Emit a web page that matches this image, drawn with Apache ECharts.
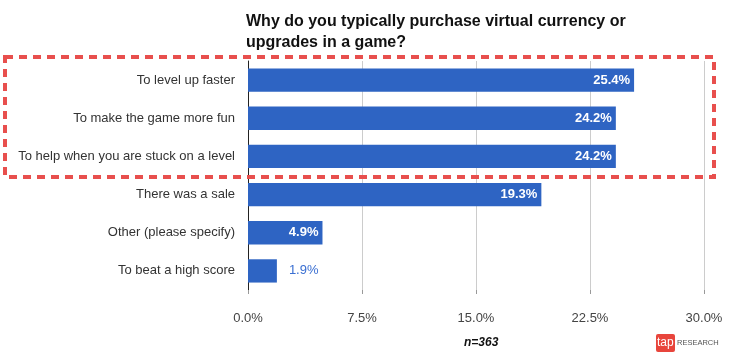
<!DOCTYPE html>
<html><head><meta charset="utf-8">
<script src="https://cdn.jsdelivr.net/npm/echarts@6/dist/echarts.min.js"></script>
<style>html,body{margin:0;padding:0;background:#fff}#c{width:743px;height:361px}</style>
</head><body><div id="c"></div>
<script>
var categories = ["To level up faster","To make the game more fun","To help when you are stuck on a level","There was a sale","Other (please specify)","To beat a high score"];
var values = [25.4, 24.2, 24.2, 19.3, 4.9, 1.9];
var xTicks = [0, 7.5, 15, 22.5, 30];

var chart = echarts.init(document.getElementById('c'));
var data = values.map(function(v){
  if (v < 3) return {value:v, label:{position:'right', color:'#3a6fd2', fontWeight:'normal', distance:12}};
  return v;
});
chart.setOption({
  animation:false,
  textStyle:{fontFamily:'Liberation Sans, Arial, sans-serif'},
  grid:{left:248, right:39, top:61, bottom:71, containLabel:false},
  title:{
    text:'Why do you typically purchase virtual currency or\nupgrades in a game?',
    left:241, top:6,
    textStyle:{fontSize:16, fontWeight:'bold', color:'#111', lineHeight:21, fontFamily:'Liberation Sans, Arial, sans-serif'}
  },
  xAxis:{
    type:'value', min:0, max:30, interval:7.5,
    axisLine:{show:false},
    axisTick:{show:true, length:4, lineStyle:{color:'#999'}},
    axisLabel:{color:'#444', fontSize:13, margin:22, formatter:function(v){return v.toFixed(1)+'%';}},
    splitLine:{show:true, lineStyle:{color:'#cccccc', width:1}}
  },
  yAxis:{
    type:'category', data:categories, inverse:true,
    axisLine:{show:true, lineStyle:{color:'#222', width:1}},
    axisTick:{show:false},
    axisLabel:{color:'#333', fontSize:13, margin:13}
  },
  series:[{
    type:'bar', data:data, barCategoryGap:'39%',
    itemStyle:{color:'#2e64c3'},
    label:{show:true, position:'insideRight', color:'#fff', fontWeight:'bold', fontSize:13, distance:4,
      formatter:function(p){return p.value.toFixed(1)+'%';}}
  }],
  graphic:[
    {type:'rect', shape:{x:5, y:57, width:709, height:120},
     style:{fill:'none', stroke:'#e84f4d', lineWidth:4, lineDash:[8,6]}, z:100},
    {type:'text', left:464, top:337, style:{text:'n=363', font:'italic bold 12px Liberation Sans, Arial', fill:'#111'}},
    {type:'rect', shape:{x:656, y:334, width:19, height:18, r:2}, style:{fill:'#e8453c'}},
    {type:'text', x:657, y:337, style:{text:'tap', font:'12px Liberation Sans, Arial', fill:'#fff'}},
    {type:'text', x:677, y:339, style:{text:'RESEARCH', font:'7.5px Liberation Sans, Arial', fill:'#555'}}
  ]
});
</script></body></html>
